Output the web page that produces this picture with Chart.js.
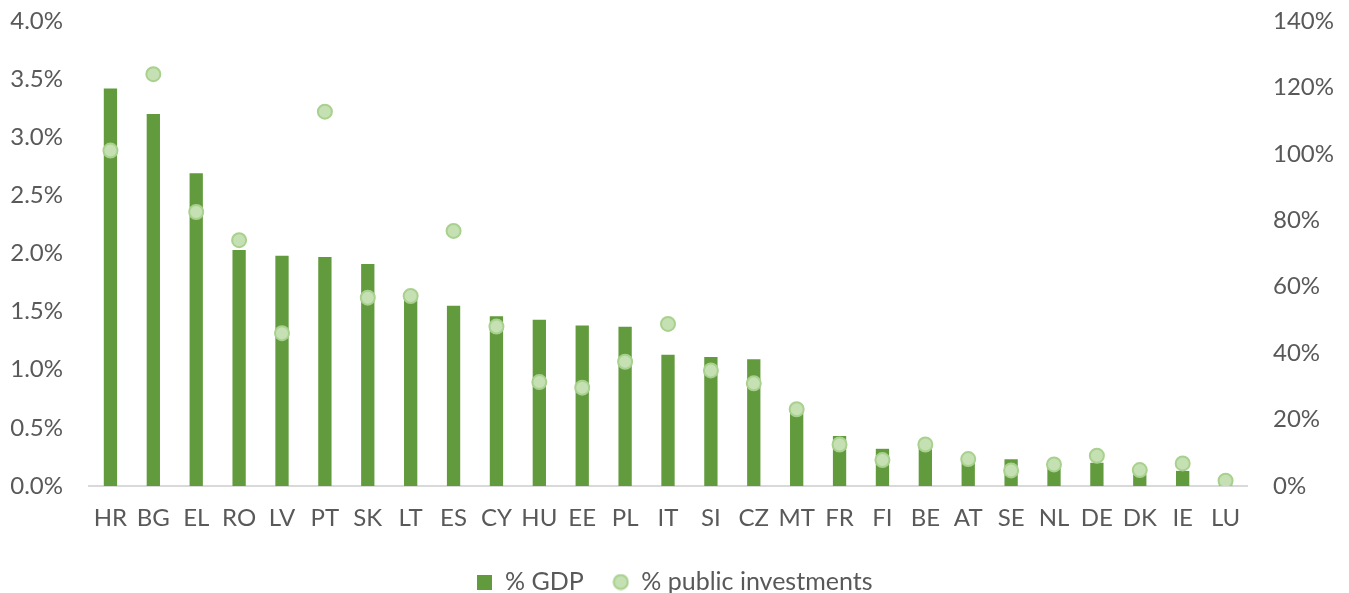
<!DOCTYPE html>
<html>
<head>
<meta charset="utf-8">
<script src="https://cdn.jsdelivr.net/npm/chart.js@4/dist/chart.umd.min.js"></script>
<style>
html,body{margin:0;padding:0;background:#fff;}
#wrap{width:1349px;height:593px;}
</style>
</head>
<body>
<div id="wrap"><canvas id="c" width="1349" height="593"></canvas></div>
<script>
const categories = ["HR","BG","EL","RO","LV","PT","SK","LT","ES","CY","HU","EE","PL","IT","SI","CZ","MT","FR","FI","BE","AT","SE","NL","DE","DK","IE","LU"];
const gdpShare = [3.42,3.20,2.69,2.03,1.98,1.97,1.91,1.62,1.55,1.46,1.43,1.38,1.37,1.13,1.11,1.09,0.66,0.43,0.32,0.33,0.22,0.23,0.17,0.20,0.10,0.13,0.01];
const publicInvShare = [101,124,82.5,74,46,112.7,56.7,57.2,76.8,48,31.3,29.6,37.4,48.8,34.8,30.9,23.1,12.5,7.8,12.5,8.1,4.7,6.5,9.1,4.8,6.8,1.6];
const leftTicks = [0,0.5,1.0,1.5,2.0,2.5,3.0,3.5,4.0];
const rightTicks = [0,20,40,60,80,100,120,140];

const FONT = "Lato";
const TXT = "#595959";
const BAR = '#629b3d';
const PT_FILL = '#c5e0b3';
const PT_EDGE = '#a9d18e';
const LEGEND_PAD = 29;
const LEGEND_FONT = 25;
const LEGEND_CENTER_Y = 582;

function legendSquare() {
  const c = document.createElement('canvas');
  c.width = 15; c.height = 15;
  const x = c.getContext('2d');
  x.fillStyle = BAR; x.fillRect(0, 0, 15, 15);
  return c;
}
function legendCircle() {
  const c = document.createElement('canvas');
  c.width = 17; c.height = 17;
  const x = c.getContext('2d');
  x.beginPath(); x.arc(8.5, 8.5, 7, 0, Math.PI * 2);
  x.fillStyle = PT_FILL; x.fill();
  x.lineWidth = 2; x.strokeStyle = PT_EDGE; x.stroke();
  return c;
}
const legendIcons = [legendSquare(), legendCircle()];

const legendShift = {
  id: 'legendShift',
  afterLayout(chart) {
    const l = chart.legend;
    if (!l) return;
    const cur = l.top + LEGEND_PAD + LEGEND_FONT / 2;
    const d = LEGEND_CENTER_Y - cur;
    l.top += d; l.bottom += d;
  }
};

new Chart(document.getElementById('c'), {
  data: {
    labels: categories,
    datasets: [
      {
        type: 'bar',
        label: '% GDP',
        data: gdpShare,
        yAxisID: 'y',
        backgroundColor: BAR,
        borderWidth: 0,
        barPercentage: 0.62,
        categoryPercentage: 0.5,
        order: 2
      },
      {
        type: 'line',
        label: '% public investments',
        data: publicInvShare,
        yAxisID: 'y1',
        showLine: false,
        pointStyle: 'circle',
        pointRadius: 7,
        pointBackgroundColor: PT_FILL,
        pointBorderColor: PT_EDGE,
        pointBorderWidth: 2,
        backgroundColor: PT_FILL,
        borderColor: PT_EDGE,
        order: 1
      }
    ]
  },
  plugins: [legendShift],
  options: {
    responsive: false,
    animation: false,
    layout: { padding: { top: 21, left: 0, right: 0, bottom: 0 } },
    plugins: {
      tooltip: { enabled: false },
      legend: {
        position: 'bottom',
        labels: {
          usePointStyle: true,
          boxWidth: 16,
          boxHeight: 16,
          padding: LEGEND_PAD,
          color: TXT,
          font: { family: FONT, size: LEGEND_FONT },
          sort: (a, b) => a.datasetIndex - b.datasetIndex,
          generateLabels: (chart) => {
            const items = Chart.defaults.plugins.legend.labels.generateLabels(chart);
            items.forEach(it => { it.pointStyle = legendIcons[it.datasetIndex]; });
            return items;
          }
        }
      }
    },
    scales: {
      x: {
        afterFit: (s) => { s.height = 43; },
        grid: { display: false, drawTicks: false },
        border: { display: true, color: '#d9d9d9', width: 2 },
        ticks: { color: TXT, font: { family: FONT, size: 24 }, padding: 18, maxRotation: 0, autoSkip: false }
      },
      y: {
        position: 'left',
        min: 0, max: 4,
        afterBuildTicks: (s) => { s.ticks = leftTicks.map(v => ({ value: v })); },
        afterFit: (s) => { s.width = 89; s.paddingTop = 0; s.paddingBottom = 0; },
        grid: { display: false, drawTicks: false },
        border: { display: false },
        ticks: { color: TXT, font: { family: FONT, size: 24 }, padding: 26, callback: v => v.toFixed(1) + '%' }
      },
      y1: {
        position: 'right',
        min: 0, max: 140,
        afterBuildTicks: (s) => { s.ticks = rightTicks.map(v => ({ value: v })); },
        afterFit: (s) => { s.width = 102; s.paddingTop = 0; s.paddingBottom = 0; },
        grid: { display: false, drawTicks: false },
        border: { display: false },
        ticks: { color: TXT, font: { family: FONT, size: 24 }, padding: 26, callback: v => v + '%' }
      }
    }
  }
});
</script>
</body>
</html>
